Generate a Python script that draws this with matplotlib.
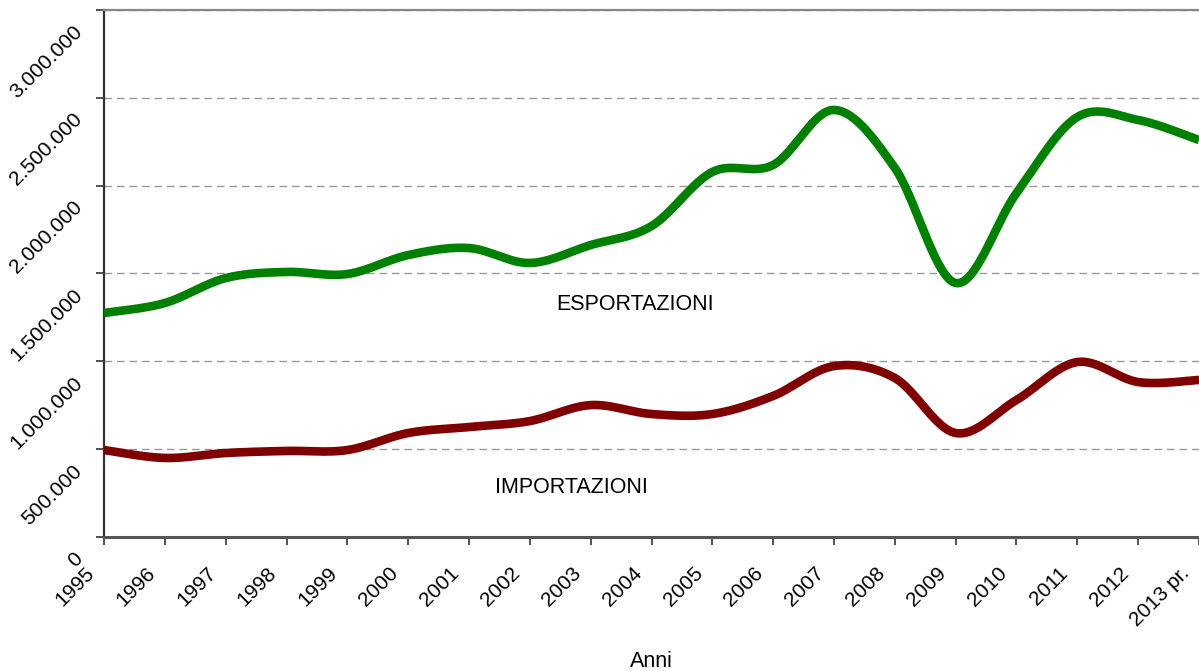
import numpy as np
import matplotlib.pyplot as plt
import matplotlib.transforms as mtransforms

plt.rcParams['font.family'] = ['Liberation Sans', 'DejaVu Sans']

anni = ['1995', '1996', '1997', '1998', '1999', '2000', '2001', '2002', '2003',
        '2004', '2005', '2006', '2007', '2008', '2009', '2010', '2011', '2012',
        '2013 pr.']

esportazioni = [1275000, 1332000, 1474000, 1509000, 1497000, 1605000, 1645000,
                1560000, 1662000, 1770000, 2078000, 2118000, 2431000, 2101000,
                1446000, 1958000, 2391000, 2374000, 2260000]

importazioni = [495000, 450000, 478000, 490000, 495000, 592000, 626000,
                660000, 751000, 700000, 700000, 803000, 973000, 905000,
                592000, 780000, 996000, 882000, 894000]

y_ticks = [0, 500000, 1000000, 1500000, 2000000, 2500000, 3000000]
y_labels = ['0', '500.000', '1.000.000', '1.500.000', '2.000.000',
            '2.500.000', '3.000.000']


def smooth(x, y, n=30):
    # uniform Catmull-Rom spline through the points (same look as a smoothed office line)
    x = np.asarray(x, float)
    y = np.asarray(y, float)
    px = np.concatenate([[x[0]], x, [x[-1]]])
    py = np.concatenate([[y[0]], y, [y[-1]]])
    xs, ys = [], []
    t = np.linspace(0, 1, n, endpoint=False)
    for i in range(1, len(px) - 2):
        for arr, out in ((px, xs), (py, ys)):
            p0, p1, p2, p3 = arr[i - 1], arr[i], arr[i + 1], arr[i + 2]
            out.extend(0.5 * (2 * p1 + (-p0 + p2) * t
                              + (2 * p0 - 5 * p1 + 4 * p2 - p3) * t ** 2
                              + (-p0 + 3 * p1 - 3 * p2 + p3) * t ** 3))
    xs.append(x[-1])
    ys.append(y[-1])
    return np.array(xs), np.array(ys)


fig = plt.figure(figsize=(11.99, 6.71), dpi=100)
ax = fig.add_axes([104 / 1199, 1 - 537 / 671, 1 - 104 / 1199, 527 / 671])

x = np.arange(len(anni))
sx, sy = smooth(x, esportazioni)
ax.plot(sx, sy, color='#008000', lw=6.2, solid_capstyle='butt', zorder=3)
sx, sy = smooth(x, importazioni)
ax.plot(sx, sy, color='#800000', lw=6.2, solid_capstyle='butt', zorder=3)

ax.set_xlim(0, len(anni) - 1)
ax.set_ylim(0, 3000000)

ax.set_yticks(y_ticks)
ax.set_yticklabels(y_labels, rotation=45, ha='right', va='top', fontsize=15)
ax.set_xticks(x)
ax.set_xticklabels(anni, rotation=45, ha='right', va='top', fontsize=15)
ax.tick_params(axis='y', length=6, width=1.2, color='#333333', pad=7)
ax.tick_params(axis='x', length=6, width=1.2, color='#333333', pad=13)

shift_y = mtransforms.ScaledTranslation(0, -12 / 100, fig.dpi_scale_trans)
for lab in ax.get_yticklabels():
    lab.set_transform(lab.get_transform() + shift_y)
shift_x = mtransforms.ScaledTranslation(-6 / 100, 0, fig.dpi_scale_trans)
for lab in ax.get_xticklabels():
    lab.set_transform(lab.get_transform() + shift_x)

ax.yaxis.grid(True, color='#999999', lw=1, linestyle=(0, (5.5, 3.5)))
ax.set_axisbelow(True)

ax.spines['left'].set_color('#333333')
ax.spines['left'].set_linewidth(1.6)
ax.spines['bottom'].set_color('#555555')
ax.spines['bottom'].set_linewidth(2.2)
ax.spines['top'].set_color('#888888')
ax.spines['top'].set_linewidth(1.6)
ax.spines['right'].set_visible(False)

ax.text(8.73, 1292000, 'ESPORTAZIONI', ha='center', va='baseline', fontsize=15.5)
ax.text(7.69, 250000, 'IMPORTAZIONI', ha='center', va='baseline', fontsize=15.5)

ax.set_xlabel('Anni', fontsize=15.5, va='baseline')
ax.xaxis.set_label_coords(0.5, -130 / 527)

fig.savefig('out.png', dpi=100)
